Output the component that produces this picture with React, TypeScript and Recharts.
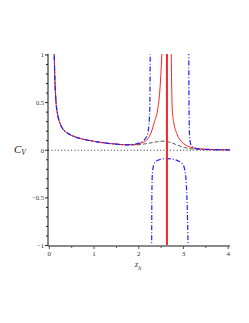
import { LineChart, Line, XAxis, YAxis, ReferenceLine } from "recharts";

// shared low-z part, all curves sit on top of each other here
const commonZ = [0.105, 0.11, 0.12, 0.135, 0.15, 0.18, 0.24, 0.3, 0.42, 0.55, 0.7, 0.9, 1.1, 1.3, 1.5, 1.7];
const commonC = [1.1, 1.0, 0.8, 0.62, 0.5, 0.39, 0.28, 0.225, 0.175, 0.145, 0.122, 0.102, 0.086, 0.073, 0.064, 0.057];

// red solid, left and right of the peak
const redLeftZ = [1.9, 2.0, 2.1, 2.2, 2.28, 2.35, 2.42, 2.47, 2.5, 2.52];
const redLeftC = [0.06, 0.068, 0.085, 0.12, 0.19, 0.3, 0.42, 0.62, 0.85, 1.05];
const redRightZ = [2.725, 2.735, 2.75, 2.78, 2.85, 2.9, 2.96, 3.05, 3.14, 3.3, 3.5, 3.75, 4.04];
const redRightC = [1.05, 0.7, 0.42, 0.3, 0.175, 0.125, 0.087, 0.055, 0.035, 0.018, 0.01, 0.006, 0.004];

// red divergence
const redPoleZ = [2.63, 2.63];
const redPoleC = [1.05, -1.05];

// blue dash-dot, three branches
const blueLeftZ = [1.9, 2.0, 2.1, 2.17, 2.21, 2.235, 2.247, 2.252, 2.256];
const blueLeftC = [0.062, 0.075, 0.098, 0.14, 0.2, 0.32, 0.45, 0.7, 1.05];
const blueMidZ = [2.288, 2.291, 2.296, 2.305, 2.33, 2.38, 2.46, 2.55, 2.63, 2.72, 2.82, 2.9, 2.96, 3.0, 3.03, 3.055, 3.075, 3.09, 3.105];
const blueMidC = [-1.05, -0.6, -0.36, -0.24, -0.16, -0.12, -0.1, -0.09, -0.087, -0.09, -0.1, -0.115, -0.135, -0.16, -0.21, -0.3, -0.48, -0.72, -1.05];
const blueRightZ = [3.118, 3.122, 3.128, 3.136, 3.15, 3.18, 3.25, 3.4, 3.6, 3.8, 4.04];
const blueRightC = [1.05, 0.6, 0.3, 0.15, 0.085, 0.045, 0.022, 0.012, 0.008, 0.006, 0.004];

// gray dashed hump
const grayZ = [1.9, 2.1, 2.3, 2.42, 2.52, 2.62, 2.72, 2.82, 2.92, 3.02, 3.12, 3.3, 3.6, 4.04];
const grayC = [0.055, 0.064, 0.08, 0.09, 0.095, 0.092, 0.08, 0.062, 0.044, 0.03, 0.018, 0.01, 0.005, 0.003];

const xTicks = [0, 0.5, 1, 1.5, 2, 2.5, 3, 3.5, 4];
const yTicks = [-1, -0.9, -0.8, -0.7, -0.6, -0.5, -0.4, -0.3, -0.2, -0.1, 0, 0.1, 0.2, 0.3, 0.4, 0.5, 0.6, 0.7, 0.8, 0.9, 1];

const zip = (zs: number[], cs: number[]) => zs.map((z, i) => ({ z, c: cs[i] }));

const redLeft = zip([...commonZ, ...redLeftZ], [...commonC, ...redLeftC]);
const redRight = zip(redRightZ, redRightC);
const redPole = zip(redPoleZ, redPoleC);
const blueLeft = zip([...commonZ, ...blueLeftZ], [...commonC, ...blueLeftC]);
const blueMid = zip(blueMidZ, blueMidC);
const blueRight = zip(blueRightZ, blueRightC);
const gray = zip([...commonZ, ...grayZ], [...commonC, ...grayC]);

const isHalf = (v: number) => Math.abs(v * 2 - Math.round(v * 2)) < 1e-9;
const font = "'Liberation Serif', 'DejaVu Serif', serif";

const XTick = ({ x, y, payload }: any) => {
  const major = Number.isInteger(payload.value);
  return (
    <g>
      <line x1={x} x2={x} y1={y} y2={y + (major ? 3 : 2)} stroke="#555" />
      {major && (
        <text x={x} y={y + 10} textAnchor="middle" fontSize={7} fontFamily={font} fill="#333">
          {payload.value}
        </text>
      )}
    </g>
  );
};

const YTick = ({ x, y, payload }: any) => {
  const v = payload.value;
  const major = isHalf(v);
  return (
    <g>
      <line x1={x} x2={x - (major ? 3 : 2)} y1={y} y2={y} stroke="#222" />
      {major && (
        <text x={x - 4} y={y + 2.3} textAnchor="end" fontSize={6.5} fontFamily={font} fill="#333">
          {v < 0 ? "\u2212" + Math.abs(v) : String(v)}
        </text>
      )}
    </g>
  );
};

const blueDash = "5 2 1 2";

export default function App() {
  return (
    <div style={{ position: "relative", width: 233, height: 300 }}>
      <LineChart width={233} height={300} margin={{ top: 46, right: 11, bottom: 32, left: 0 }}>
        <XAxis
          type="number"
          dataKey="z"
          domain={[-0.03, 4.04]}
          ticks={xTicks}
          interval={0}
          allowDataOverflow
          height={30}
          tickSize={0}
          tickMargin={0}
          tickLine={false}
          tick={<XTick />}
          axisLine={{ stroke: "#8a8a8a", strokeWidth: 2 }}
        />
        <XAxis
          xAxisId="top"
          orientation="top"
          type="number"
          domain={[-0.03, 4.04]}
          height={0}
          tick={false}
          tickLine={false}
          axisLine={{ stroke: "#777", strokeWidth: 1.3 }}
        />
        <YAxis
          type="number"
          domain={[-1.005, 1.01]}
          ticks={yTicks}
          interval={0}
          allowDataOverflow
          width={40}
          tickSize={0}
          tickMargin={0}
          tickLine={false}
          tick={<YTick />}
          axisLine={{ stroke: "#111" }}
        />
        <YAxis
          yAxisId="right"
          orientation="right"
          type="number"
          domain={[-1.005, 1.01]}
          width={0}
          tick={false}
          tickLine={false}
          axisLine={{ stroke: "#333", strokeWidth: 1.3 }}
        />
        <ReferenceLine y={0} stroke="#333" strokeDasharray="1 2.3" />
        <Line data={gray} dataKey="c" type="monotone" stroke="#555" strokeWidth={1} strokeDasharray="4 2" dot={false} isAnimationActive={false} />
        <Line data={redLeft} dataKey="c" type="monotone" stroke="#ff2020" strokeWidth={1} dot={false} isAnimationActive={false} />
        <Line data={redRight} dataKey="c" type="monotone" stroke="#ff2020" strokeWidth={1} dot={false} isAnimationActive={false} />
        <Line data={blueLeft} dataKey="c" type="monotone" stroke="#2020ff" strokeWidth={1.2} strokeDasharray={blueDash} dot={false} isAnimationActive={false} />
        <Line data={blueMid} dataKey="c" type="monotone" stroke="#2020ff" strokeWidth={1.2} strokeDasharray={blueDash} dot={false} isAnimationActive={false} />
        <Line data={blueRight} dataKey="c" type="monotone" stroke="#2020ff" strokeWidth={1.2} strokeDasharray={blueDash} dot={false} isAnimationActive={false} />
        <Line data={redPole} dataKey="c" type="linear" stroke="#ee2a2a" strokeWidth={2} dot={false} isAnimationActive={false} />
      </LineChart>
      <svg width={233} height={300} style={{ position: "absolute", left: 0, top: 0, pointerEvents: "none" }}>
        <text x={6} y={144.5} fontSize={11} fontStyle="italic" fontFamily={font} fill="#222">
          C
          <tspan fontSize={7.5} dy={2.5}>V</tspan>
        </text>
        <text x={127} y={258.5} fontSize={8} fontStyle="italic" fontFamily={font} fill="#333">
          z
          <tspan fontSize={6} dy={3}>h</tspan>
        </text>
      </svg>
    </div>
  );
}
